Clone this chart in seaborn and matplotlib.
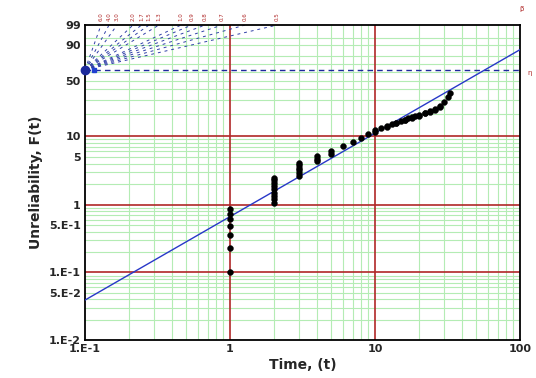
import numpy as np
import pandas as pd
import matplotlib
matplotlib.use('Agg')
import matplotlib.pyplot as plt
import seaborn as sns

# failure times and median-rank unreliability (%)
t_vals = ([1] * 7 + [2] * 9 + [3] * 6 + [4] * 3 + [5] * 2 + [6, 7, 8, 9, 10, 10]
          + [11, 12, 13, 14, 15, 16, 17, 18, 19, 20, 22, 24, 26, 28, 30, 32, 33]
          + [12, 14, 16, 18, 20, 22, 24, 26, 28])
f_vals = ([0.10, 0.23, 0.36, 0.49, 0.62, 0.72, 0.88]
          + [1.05, 1.2, 1.35, 1.5, 1.7, 1.9, 2.1, 2.3, 2.5]
          + [2.6, 2.9, 3.2, 3.5, 3.8, 4.1]
          + [4.3, 4.7, 5.1]
          + [5.5, 6.0]
          + [7.2, 8.2, 9.3, 10.6, 11.4, 11.9]
          + [12.8, 13.6, 14.5, 15.2, 16.0, 16.7, 17.5, 18.0, 18.6, 19.4, 20.7,
             22.0, 23.3, 25.2, 28.2, 32.3, 36.0]
          + [13.2, 14.9, 16.3, 17.4, 18.9, 20.2, 21.4, 22.7, 24.4])
df = pd.DataFrame({'time': t_vals, 'unrel': f_vals})

# fitted line end points (t, F%)
fit_t = [0.1, 100]
fit_f = [0.039, 86.3]

# beta scale labels across the top
betas = [6.0, 4.0, 3.0, 2.0, 1.7, 1.5, 1.3, 1.0, 0.9, 0.8, 0.7, 0.6, 0.5]

y_labels = [0.01, 0.05, 0.1, 0.5, 1, 5, 10, 50, 90, 99]
y_text = ['1.E-2', '5.E-2', '1.E-1', '5.E-1', '1', '5', '10', '50', '90', '99']
x_labels = [0.1, 1, 10, 100]
x_text = ['1.E-1', '1', '10', '100']


def fwd(p):
    p = np.asarray(p, dtype=float)
    with np.errstate(all='ignore'):
        return np.log(-np.log(1 - p / 100.0))


def inv(y):
    y = np.asarray(y, dtype=float)
    return 100.0 * (1 - np.exp(-np.exp(y)))


sns.set_style('white')
fig = plt.figure(figsize=(5.36, 3.78), dpi=100)
ax = fig.add_axes([0.1586, 0.1005, 0.8116, 0.8334])
ax.set_xscale('log')
ax.set_yscale('function', functions=(fwd, inv))
ax.set_xlim(0.1, 100)
ax.set_ylim(0.01, 99)

green = '#b4ecb4'
red = '#b02828'
for dec in [0.01, 0.1, 1]:
    for k in range(2, 10):
        ax.axhline(dec * k, color=green, lw=0.8, zorder=0)
for v in [20, 30, 40, 50, 60, 70, 80, 90, 95]:
    ax.axhline(v, color=green, lw=0.8, zorder=0)
for dec in [0.1, 1, 10]:
    for k in range(2, 10):
        ax.axvline(dec * k, color=green, lw=0.8, zorder=0)
for v in [0.1, 1, 10]:
    ax.axhline(v, color=red, lw=1.2, zorder=1)
for v in [1, 10]:
    ax.axvline(v, color=red, lw=1.2, zorder=1)

# eta line at 63.2 % and beta fan from the pivot
ax.axhline(63.2, color='#1c2a9c', lw=1, ls=(0, (4, 3)), zorder=2)
top = np.log(-np.log(0.01))
for b in betas:
    t_end = 0.1 * np.exp(top / b)
    ax.plot([0.1, t_end], [63.2, 99], color='#3040a8', lw=0.7,
            ls=(0, (3, 4)), zorder=2)
    ax.annotate(f'{b:.1f}', xy=(t_end, 99), xytext=(0, 3),
                textcoords='offset points', rotation=90, ha='center',
                va='bottom', fontsize=4, color=red, annotation_clip=False)
ax.plot([0.1], [63.2], 'o', color='#1c2a9c', ms=6, clip_on=False, zorder=5)
ax.plot([0.115], [63.2], 's', color='#2040d0', ms=3, clip_on=False, zorder=5)
ax.annotate('η', xy=(100, 63.2), xytext=(5, -2), textcoords='offset points',
            fontsize=5, color=red, va='center', annotation_clip=False)
ax.annotate('β', xy=(100, 99), xytext=(1, 10), textcoords='offset points',
            fontsize=5, color=red, ha='center', annotation_clip=False)

sns.lineplot(x=fit_t, y=fit_f, ax=ax, color='#2838c8', lw=1, zorder=3)
sns.scatterplot(data=df, x='time', y='unrel', ax=ax, color='black', s=18,
                marker='o', edgecolor='black', linewidth=0.3, zorder=4)

ax.set_yticks(y_labels)
ax.set_yticklabels(y_text)
ax.yaxis.set_minor_locator(matplotlib.ticker.NullLocator())
ax.set_xticks(x_labels)
ax.set_xticklabels(x_text)
ax.xaxis.set_minor_locator(matplotlib.ticker.NullLocator())
ax.tick_params(length=0, labelsize=8, pad=3)
for lab in ax.get_xticklabels() + ax.get_yticklabels():
    lab.set_fontweight('bold')
ax.set_xlabel('Time, (t)', fontsize=10, fontweight='bold', labelpad=3)
ax.set_ylabel('Unreliability, F(t)', fontsize=10, fontweight='bold', labelpad=4)
for s in ax.spines.values():
    s.set_color('black')
    s.set_linewidth(1.3)

fig.savefig('out.png', dpi=100)
